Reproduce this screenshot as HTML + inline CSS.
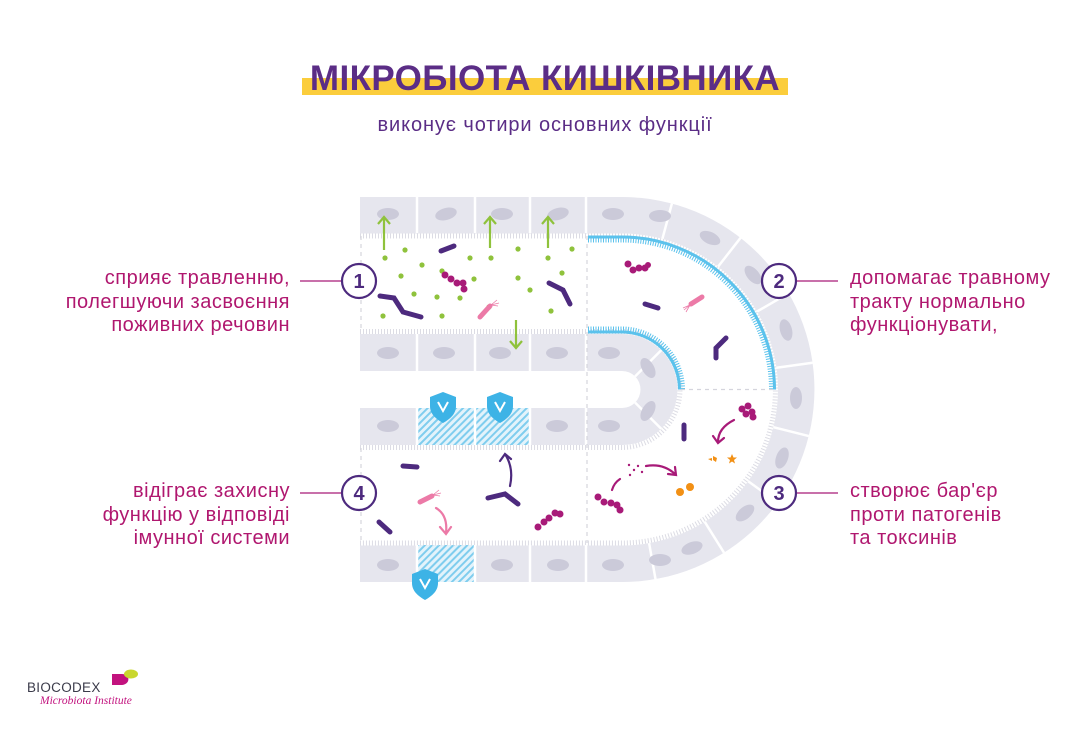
<!DOCTYPE html>
<html><head><meta charset="utf-8"><style>
html,body{margin:0;padding:0;background:#fff;}
body{width:1090px;height:732px;position:relative;overflow:hidden;font-family:"Liberation Sans","DejaVu Sans",sans-serif;}
.t{position:absolute;color:#b0176f;font-size:20px;letter-spacing:0.5px;line-height:23.5px;}
</style></head><body>
<svg width="1090" height="732" style="position:absolute;left:0;top:0" xmlns="http://www.w3.org/2000/svg">
<defs>
<pattern id="h" width="5" height="5" patternUnits="userSpaceOnUse" patternTransform="rotate(45)">
<rect width="5" height="5" fill="#e3f3fb"/><rect width="2" height="5" fill="#7fcdee"/></pattern>
</defs>
<rect x="302" y="78" width="486" height="17" fill="#fbcd3c"/>
<text x="545" y="90" text-anchor="middle" font-family="Liberation Sans, DejaVu Sans, sans-serif" font-weight="bold" font-size="35" fill="#5b2d86" letter-spacing="0.4">МІКРОБІОТА КИШКІВНИКА</text>
<text x="545" y="131" text-anchor="middle" font-family="Liberation Sans, DejaVu Sans, sans-serif" font-size="20" letter-spacing="0.9" fill="#5b2d86">виконує чотири основних функції</text>

<path d="M360 197 H622 A192.5 192.5 0 0 1 622 582 H360Z" fill="#e6e6ee"/>
<path d="M360 233.5 H622 A156 156 0 0 1 622 545.5 H360Z" fill="#fff"/>
<path d="M360 334 H622 A55.5 55.5 0 0 1 622 445 H360Z" fill="#e6e6ee"/>
<path d="M360 371 H622 A18.5 18.5 0 0 1 622 408 H360Z" fill="#fff"/>
<rect x="417" y="408" width="113" height="37" fill="url(#h)"/>
<rect x="417" y="545" width="58" height="37" fill="url(#h)"/>
<g fill="none" stroke="#dcdce4" stroke-width="5" stroke-dasharray="1 2">
<path d="M360 236 H622 A153.5 153.5 0 0 1 622 543 H360"/>
<path d="M360 331.5 H622 A58 58 0 0 1 622 447.5 H360"/>
</g>
<g fill="none" stroke="#5bc2ec">
<path d="M588 237 H622 A152.5 152.5 0 0 1 774.5 389.5" stroke-width="3"/>
<path d="M588 240 H622 A149.5 149.5 0 0 1 771.5 389.5" stroke-width="5" stroke-dasharray="1 1.5"/>
<path d="M588 332 H622 A57.5 57.5 0 0 1 679.5 389.5" stroke-width="3"/>
<path d="M588 329 H622 A60.5 60.5 0 0 1 682.5 389.5" stroke-width="5" stroke-dasharray="1 1.5"/>
</g>
<g stroke="#fff" stroke-width="2.5">
<path d="M417 197V233M475 197V233M530 197V233M586 197V233"/>
<path d="M417 334V371M475 334V371M530 334V371M586 334V371"/>
<path d="M417 408V445M475 408V445M530 408V445M586 408V445"/>
<path d="M417 545V582M475 545V582M530 545V582M586 545V582"/>
<path d="M662.4 238.8L671.9 203.6M718.1 266.6L740.6 237.8M757.1 311.5L788.7 293.2M776.5 367.8L812.6 362.7M773.4 427.2L808.8 436.1M748.2 481.2L777.7 502.7M704.7 521.8L724 552.7M649.1 543.1L655.5 579.1"/>
<path d="M635.1 376.4L661.2 350.3M635.1 402.6L661.2 428.7"/>
</g>
<g fill="#cbcad9">
<ellipse cx="388" cy="214" rx="11" ry="6"/><ellipse cx="446" cy="214" rx="11" ry="6" transform="rotate(-15 446 214)"/><ellipse cx="502" cy="214" rx="11" ry="6"/><ellipse cx="558" cy="214" rx="11" ry="6" transform="rotate(-15 558 214)"/><ellipse cx="613" cy="214" rx="11" ry="6"/>
<ellipse cx="388" cy="353" rx="11" ry="6"/><ellipse cx="444" cy="353" rx="11" ry="6"/><ellipse cx="500" cy="353" rx="11" ry="6"/><ellipse cx="557" cy="353" rx="11" ry="6"/><ellipse cx="609" cy="353" rx="11" ry="6"/>
<ellipse cx="388" cy="426" rx="11" ry="6"/><ellipse cx="557" cy="426" rx="11" ry="6"/><ellipse cx="609" cy="426" rx="11" ry="6"/>
<ellipse cx="388" cy="565" rx="11" ry="6"/><ellipse cx="502" cy="565" rx="11" ry="6"/><ellipse cx="558" cy="565" rx="11" ry="6"/><ellipse cx="613" cy="565" rx="11" ry="6"/>
<ellipse cx="648" cy="368" rx="6" ry="11" transform="rotate(-30 648 368)"/><ellipse cx="648" cy="411" rx="6" ry="11" transform="rotate(30 648 411)"/>
<ellipse cx="660" cy="216" rx="11" ry="6"/><ellipse cx="710" cy="238" rx="11" ry="6" transform="rotate(25 710 238)"/><ellipse cx="753" cy="275" rx="6" ry="11" transform="rotate(-40 753 275)"/>
<ellipse cx="786" cy="330" rx="6" ry="11" transform="rotate(-15 786 330)"/><ellipse cx="796" cy="398" rx="6" ry="11"/><ellipse cx="782" cy="458" rx="6" ry="11" transform="rotate(20 782 458)"/>
<ellipse cx="745" cy="513" rx="11" ry="6" transform="rotate(-40 745 513)"/><ellipse cx="692" cy="548" rx="11" ry="6" transform="rotate(-20 692 548)"/><ellipse cx="660" cy="560" rx="11" ry="6"/>
</g>
<g stroke="#d5d5dd" stroke-width="1.2" stroke-dasharray="4 4" fill="none">
<path d="M587 236V543M681 389.5H774M361 236V331M361 448V543"/>
</g>
<g fill="#3db3e6">
<path d="M443 392l13 5v9c0 8-6 13-13 17c-7-4-13-9-13-17v-9z"/>
<path d="M500 392l13 5v9c0 8-6 13-13 17c-7-4-13-9-13-17v-9z"/>
<path d="M425 569l13 5v9c0 8-6 13-13 17c-7-4-13-9-13-17v-9z"/>
</g>
<g stroke="#fff" stroke-width="2" fill="none">
<path d="M438 402l5 9l5-9M495 402l5 9l5-9M420 579l5 9l5-9"/>
</g>
<g stroke="#8fc23c" stroke-width="2.2" fill="none">
<path d="M384 250V218M378 224l6-7l6 7"/><path d="M490 248V218M484 224l6-7l6 7"/><path d="M548 248V218M542 224l6-7l6 7"/><path d="M516 320V347M510 341l6 7l6-7"/>
</g>
<g fill="#8fc23c">
<circle cx="385" cy="258" r="2.6"/><circle cx="405" cy="250" r="2.6"/><circle cx="422" cy="265" r="2.6"/><circle cx="401" cy="276" r="2.6"/><circle cx="414" cy="294" r="2.6"/><circle cx="437" cy="297" r="2.6"/><circle cx="383" cy="316" r="2.6"/><circle cx="442" cy="271" r="2.6"/><circle cx="470" cy="258" r="2.6"/><circle cx="474" cy="279" r="2.6"/><circle cx="491" cy="258" r="2.6"/><circle cx="489" cy="307" r="2.6"/><circle cx="518" cy="249" r="2.6"/><circle cx="518" cy="278" r="2.6"/><circle cx="530" cy="290" r="2.6"/><circle cx="548" cy="258" r="2.6"/><circle cx="562" cy="273" r="2.6"/><circle cx="572" cy="249" r="2.6"/><circle cx="551" cy="311" r="2.6"/><circle cx="442" cy="316" r="2.6"/><circle cx="460" cy="298" r="2.6"/>
</g>
<g stroke="#4d2a7e" stroke-width="5" stroke-linecap="round" fill="none">
<path d="M441 251L454 246"/><path d="M380 296L394 298L403 312L421 317"/><path d="M549 283L563 290L570 304"/>
<path d="M645 304L658 308"/><path d="M716 358L716 348L726 338"/>
<path d="M684 425V439"/>
<path d="M403 466L417 467"/><path d="M488 498L505 494L518 504"/><path d="M379 522L390 532"/>
</g>
<g fill="#a81a78">
<circle cx="445" cy="275" r="3.5"/><circle cx="451" cy="279" r="3.5"/><circle cx="457" cy="283" r="3.5"/><circle cx="463" cy="283" r="3.5"/><circle cx="464" cy="289" r="3.5"/>
<circle cx="628" cy="264" r="3.5"/><circle cx="633" cy="270" r="3.5"/><circle cx="639" cy="268" r="3.5"/><circle cx="645" cy="268" r="3.5"/><circle cx="648" cy="265" r="3"/>
<circle cx="742" cy="409" r="3.5"/><circle cx="748" cy="406" r="3.5"/><circle cx="752" cy="412" r="3.5"/><circle cx="746" cy="414" r="3.5"/><circle cx="753" cy="417" r="3.5"/>
<circle cx="598" cy="497" r="3.5"/><circle cx="604" cy="502" r="3.5"/><circle cx="611" cy="503" r="3.5"/><circle cx="617" cy="505" r="3.5"/><circle cx="620" cy="510" r="3.5"/>
<circle cx="538" cy="527" r="3.5"/><circle cx="544" cy="522" r="3.5"/><circle cx="549" cy="518" r="3.5"/><circle cx="555" cy="513" r="3.5"/><circle cx="560" cy="514" r="3.5"/>
<circle cx="629" cy="465" r="1.2"/><circle cx="634" cy="470" r="1.2"/><circle cx="638" cy="466" r="1.2"/><circle cx="630" cy="475" r="1.2"/><circle cx="642" cy="472" r="1.2"/>
</g>
<g stroke="#ec7aa7" stroke-width="5" stroke-linecap="round"><path d="M480 317L490 306"/><path d="M691 304L702 297"/><path d="M420 502L432 496"/></g>
<g stroke="#ec7aa7" stroke-width="0.8" fill="none"><path d="M491 305l6-5M491 305l8-2M491 305l7 1"/><path d="M690 305l-7 3M690 305l-6 5M690 305l-4 7"/><path d="M433 495l6-5M433 495l8-2M433 495l7 1"/></g>
<g fill="none" stroke-width="2.2" stroke-linecap="round">
<path d="M734 420Q718 428 718 442M713 436l5 7l6-5" stroke="#a81a78"/>
<path d="M646 466Q663 463 675 474M668 474l8 1l-1-8" stroke="#a81a78"/>
<path d="M612 490Q614 483 620 479" stroke="#a81a78"/>
<path d="M436 508Q448 515 446 533M440 527l6 7l5-7" stroke="#ec7aa7"/>
<path d="M510 486Q514 468 505 454M500 461l5-7l6 5" stroke="#4d2a7e"/>
</g>
<g fill="#f29015">
<circle cx="680" cy="492" r="4"/><circle cx="690" cy="487" r="4"/>
<path d="M732 454l1.5 3.5h3.5l-3 2.5l1 3.5l-3-2l-3 2l1-3.5l-3-2.5h3.5z"/>
<path d="M713 456l4 2l-1 4l-3-2zM708 459l4 -1l0 3z"/>
</g>
<g stroke="#a81a78" stroke-width="1.3"><path d="M300 281H342M300 493H342M796 281H838M796 493H838"/></g>
<g fill="#fff" stroke="#4d2a7e" stroke-width="2.2">
<circle cx="359" cy="281" r="17"/><circle cx="779" cy="281" r="17"/><circle cx="779" cy="493" r="17"/><circle cx="359" cy="493" r="17"/>
</g>
<g font-family="Liberation Sans, DejaVu Sans, sans-serif" font-weight="bold" font-size="20" fill="#4d2a7e" text-anchor="middle">
<text x="359" y="288">1</text><text x="779" y="288">2</text><text x="779" y="500">3</text><text x="359" y="500">4</text>
</g>
<path d="M112 674h10c8 0 9 10 0 11l-10 0z" fill="#c2127e"/><ellipse cx="131" cy="674" rx="7" ry="4.5" fill="#c9d72e"/>
<text x="27" y="692" font-family="Liberation Sans, sans-serif" font-size="13.5" fill="#3b3b4a" letter-spacing="0.3">BIOCODEX</text>
<text x="40" y="704" font-family="Liberation Serif, serif" font-style="italic" font-size="11.5" fill="#c2127e">Microbiota Institute</text>
</svg>
<div class="t" style="right:800px;top:267px;text-align:right;white-space:nowrap">сприяє травленню,<br>полегшуючи засвоєння<br>поживних речовин</div>
<div class="t" style="left:850px;top:267px;white-space:nowrap">допомагає травному<br>тракту нормально<br>функціонувати,</div>
<div class="t" style="right:800px;top:480px;text-align:right;white-space:nowrap">відіграє захисну<br>функцію у відповіді<br>імунної системи</div>
<div class="t" style="left:850px;top:480px;white-space:nowrap">створює бар'єр<br>проти патогенів<br>та токсинів</div>
</body></html>
